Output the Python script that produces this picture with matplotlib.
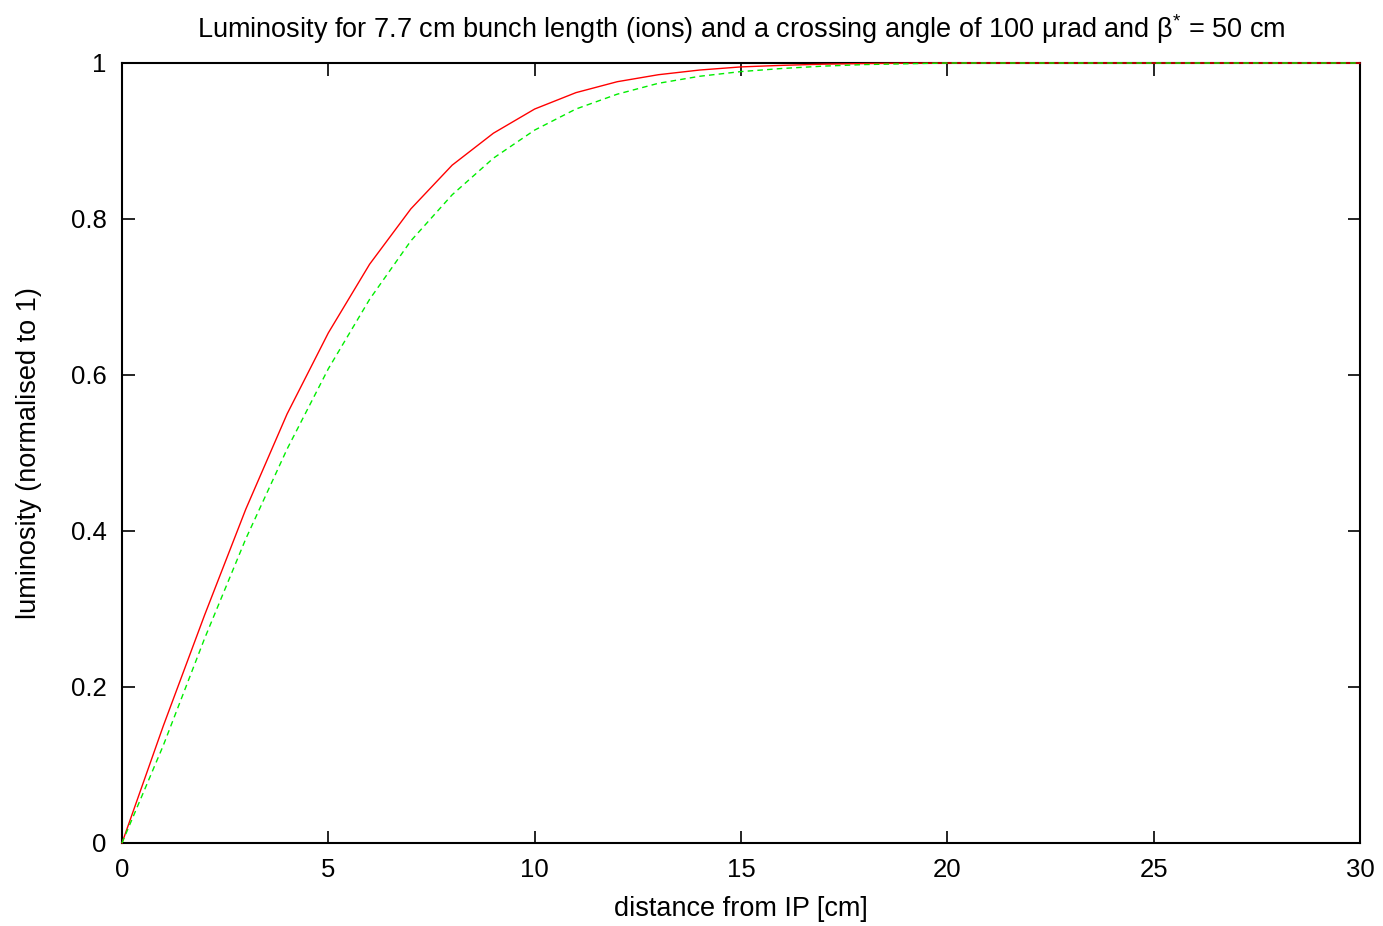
import matplotlib
matplotlib.use("Agg")
import matplotlib.pyplot as plt

plt.rcParams['font.family'] = ['Liberation Sans', 'DejaVu Sans']
plt.rcParams['mathtext.fontset'] = 'custom'
plt.rcParams['mathtext.rm'] = 'Liberation Sans'
plt.rcParams['mathtext.it'] = 'Liberation Sans'

distance = list(range(0, 31))
lumi_red = [0.0, 0.150, 0.292, 0.428, 0.550, 0.654, 0.742, 0.813, 0.869, 0.910,
            0.941, 0.962, 0.976, 0.985, 0.991, 0.995, 0.997, 0.9985, 0.9993, 0.9997,
            1.0, 1.0, 1.0, 1.0, 1.0, 1.0, 1.0, 1.0, 1.0, 1.0, 1.0]
lumi_green = [0.0, 0.125, 0.262, 0.390, 0.505, 0.608, 0.697, 0.772, 0.831, 0.878,
              0.914, 0.941, 0.960, 0.974, 0.983, 0.989, 0.993, 0.996, 0.998, 0.999,
              1.0, 1.0, 1.0, 1.0, 1.0, 1.0, 1.0, 1.0, 1.0, 1.0, 1.0]
xticks = [0, 5, 10, 15, 20, 25, 30]
yticks = [0, 0.2, 0.4, 0.6, 0.8, 1]
ytick_labels = ["0", "0.2", "0.4", "0.6", "0.8", "1"]

FS_TICK = 18.5
FS_LABEL = 19.5

fig = plt.figure(figsize=(13.83, 9.26), dpi=100)
ax = fig.add_axes([122/1383, 83/926, (1360-122)/1383, (843-63)/926])

ax.plot(distance, lumi_red, color='#ff0000', lw=1.0, zorder=3, clip_on=False)
ax.plot(distance, lumi_green, color='#00ee00', lw=1.0, dashes=(4, 3), zorder=4, clip_on=False)

ax.set_xlim(0, 30)
ax.set_ylim(0, 1)
ax.set_xticks(xticks)
ax.set_xticklabels([str(t) for t in xticks])
ax.set_yticks(yticks)
ax.set_yticklabels(ytick_labels)
ax.tick_params(direction='in', length=9, width=1.2, top=True, right=True,
               labelsize=FS_TICK)
ax.tick_params(axis='x', pad=11)
ax.tick_params(axis='y', pad=11)
for s in ax.spines.values():
    s.set_linewidth(1.5)

ax.set_xlabel("distance from IP [cm]", fontsize=FS_LABEL, labelpad=10)
ax.set_ylabel("luminosity (normalised to 1)", fontsize=FS_LABEL, labelpad=21)
ax.set_title("Luminosity for 7.7 cm bunch length (ions) and a crossing angle of 100 \u03bcrad and \u03b2$^{*}$ = 50 cm",
             fontsize=FS_LABEL, pad=18)

fig.savefig("out.png", dpi=100)
